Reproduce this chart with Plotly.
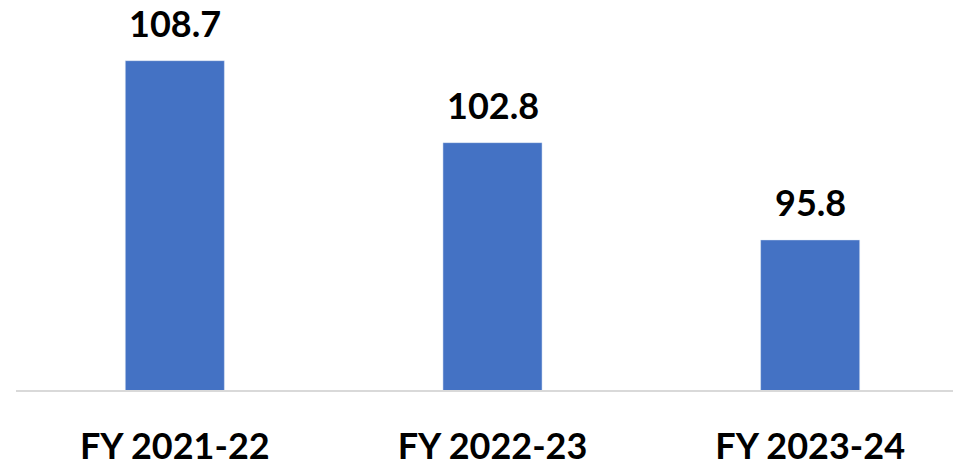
import plotly.graph_objects as go

categories = ["FY 2021-22", "FY 2022-23", "FY 2023-24"]
values = [108.7, 102.8, 95.8]
labels = ["108.7", "102.8", "95.8"]

FONT = "Lato"

fig = go.Figure(go.Bar(
    x=categories, y=values, marker_color="#4472C4", width=0.312,
    hoverinfo="skip",
))

for c, v, t in zip(categories, values, labels):
    fig.add_annotation(x=c, y=v, text="<b>%s</b>" % t, showarrow=False,
                       yanchor="middle", yshift=38,
                       font=dict(family=FONT, size=36, color="#000000"))

fig.update_layout(
    width=961, height=462,
    margin=dict(l=8, r=0, t=0, b=80),
    plot_bgcolor="white", paper_bgcolor="white",
    showlegend=False,
    xaxis=dict(range=[-0.5, 2.5], showline=True, linecolor="#D9D9D9", linewidth=2,
               showgrid=False, zeroline=False, ticks="", ticklabelstandoff=24,
               automargin=False,
               tickfont=dict(family=FONT, size=36, color="#000000", weight="bold")),
    yaxis=dict(range=[85, 112.49], visible=False, showgrid=False, zeroline=False,
               automargin=False),
)
fig.write_html("out.html")
